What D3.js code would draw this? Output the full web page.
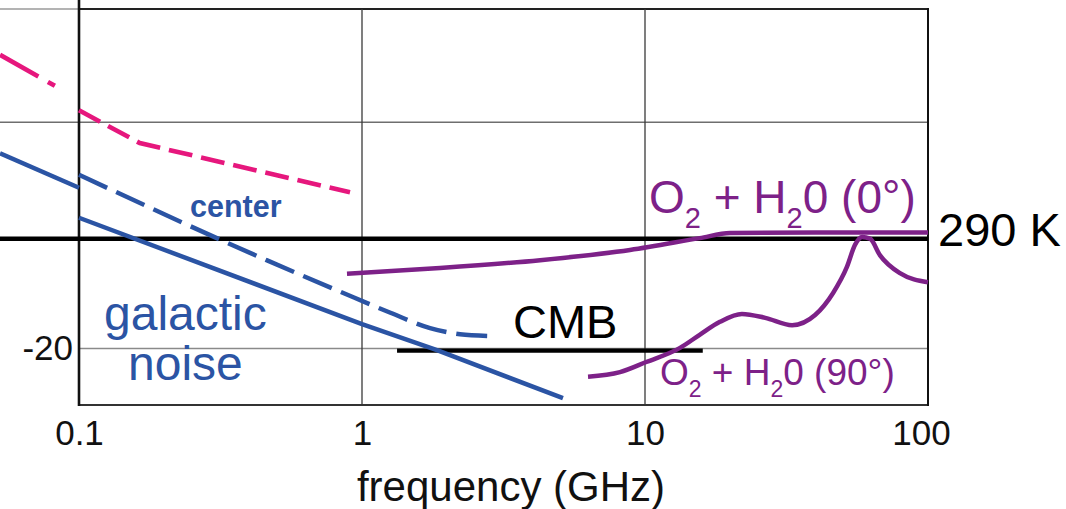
<!DOCTYPE html>
<html>
<head>
<meta charset="utf-8">
<script src="https://cdn.jsdelivr.net/npm/d3@7"></script>
<style>
  html, body { margin: 0; padding: 0; background: #fff; }
  svg { display: block; font-family: "Liberation Sans", Arial, Helvetica, sans-serif; }
</style>
</head>
<body>
<svg id="chart" width="1066" height="509"></svg>
<script>
// ---------- data ----------
const xTicks = [0.1, 1, 10, 100];
const xTickLabels = ["0.1", "1", "10", "100"];
const yGridValues = [40, 20, -20];
const yTicks = [-20];
const yTickLabels = ["-20"];
const refLevel290K = -0.6;          // 290 K reference line
const cmbLevel = -20.4;             // CMB level
const cmbRange = [1.33, 16.0];

// galactic noise (solid), left fragment beyond axis
const galacticLeft = [[0.0526, 14.5], [0.1, 8.4]];
// galactic noise (solid)
const galactic = [[0.1, 3.1], [1, -15.7], [1.84, -20.3], [5.13, -28.8]];
// galactic center (dashed)
const galacticCenter = [[0.1, 10.7], [0.46, -4.4], [0.84, -10.0], [1.26, -13.7], [1.74, -16.4], [2.22, -17.5], [2.79, -17.8]];
// pink dash-dot fragment (left) and pink dashed curve
const pinkLeft = [[0.0526, 31.9], [0.0823, 26.4]];
const pinkCurve = [[0.1, 22.1], [0.164, 16.3], [0.907, 7.6]];
// O2 + H2O (0°)
const atm0 = [[0.885, -6.8], [1.886, -5.8], [4.26, -4.4], [8.85, -2.6], [15.6, -0.5], [20.0, 0.4], [40, 0.5], [100, 0.5]];
// O2 + H2O (90°)
const atm90 = [[6.29, -25.0], [8.16, -24.2], [10.1, -22.4], [13.3, -19.9], [15.6, -17.6], [18.4, -15.3], [22.0, -13.9],
               [26.6, -14.6], [33.1, -15.9], [39.9, -14.1], [46.2, -10.2], [51.7, -5.6], [55.2, -1.7], [58.5, -0.3],
               [62.4, -0.6], [67.6, -3.5], [79.6, -6.7], [100, -8.3]];

// ---------- styles ----------
const BLUE = "#2b54a4";
const PINK = "#e6177d";
const PURPLE = "#7d2188";

const svg = d3.select("#chart");
const x = d3.scaleLog().domain([0.1, 100]).range([79, 928]);
const y = d3.scaleLinear().domain([-30, 40]).range([405, 9]);
const xLeftEdge = x.invert(0);

// ---------- grid / frame ----------
const g = svg.append("g");
g.append("line").attr("x1", x(xLeftEdge)).attr("x2", x(0.1)).attr("y1", y(40)).attr("y2", y(40))
  .attr("stroke", "#9a9a9a").attr("stroke-width", 1.5);
g.append("line").attr("x1", x(0.1)).attr("x2", x(100)).attr("y1", y(40)).attr("y2", y(40))
  .attr("stroke", "#222").attr("stroke-width", 2);
g.append("line").attr("x1", x(xLeftEdge)).attr("x2", x(100)).attr("y1", y(20)).attr("y2", y(20))
  .attr("stroke", "#6e6e6e").attr("stroke-width", 1.5);
g.append("line").attr("x1", x(0.1)).attr("x2", x(100)).attr("y1", y(-20)).attr("y2", y(-20))
  .attr("stroke", "#8a8a8a").attr("stroke-width", 1.5);
[1, 10].forEach(v => {
  g.append("line").attr("x1", x(v)).attr("x2", x(v)).attr("y1", y(40)).attr("y2", y(-30))
    .attr("stroke", "#3a3a3a").attr("stroke-width", 1.3);
});
g.append("line").attr("x1", x(0.1)).attr("x2", x(100)).attr("y1", y(-30)).attr("y2", y(-30))
  .attr("stroke", "#333").attr("stroke-width", 2.2);
g.append("line").attr("x1", x(100)).attr("x2", x(100)).attr("y1", y(40) - 1).attr("y2", y(-30) + 1)
  .attr("stroke", "#111").attr("stroke-width", 2);
g.append("line").attr("x1", x(0.1)).attr("x2", x(0.1)).attr("y1", 0).attr("y2", y(-30) + 1)
  .attr("stroke", "#111").attr("stroke-width", 2.6);

// ---------- axes labels ----------
const xAxis = d3.axisBottom(x).tickValues(xTicks).tickSize(0).tickPadding(0)
  .tickFormat((d, i) => xTickLabels[i]);
const xa = svg.append("g").attr("transform", `translate(0, 445)`).call(xAxis);
xa.select(".domain").remove();
xa.selectAll("text").attr("dy", 0).attr("font-size", 35).attr("fill", "#111")
  .attr("font-family", "Liberation Sans, Arial, sans-serif");
xa.selectAll(".tick").filter(d => d === 100).select("text").attr("dx", -7);

svg.selectAll(".ytick").data(yTicks).join("text").attr("class", "ytick")
  .attr("x", 73).attr("y", d => y(d) + 12).attr("text-anchor", "end")
  .attr("font-size", 35).attr("fill", "#111").text((d, i) => yTickLabels[i]);

svg.append("text").attr("x", 511).attr("y", 501).attr("text-anchor", "middle")
  .attr("font-size", 42).attr("fill", "#111").text("frequency (GHz)");

// ---------- lines ----------
const line = d3.line().x(d => x(d[0])).y(d => y(d[1]));
const smooth = d3.line().x(d => x(d[0])).y(d => y(d[1])).curve(d3.curveMonotoneX);

svg.append("line").attr("x1", x(xLeftEdge)).attr("x2", x(100)).attr("y1", y(refLevel290K)).attr("y2", y(refLevel290K))
  .attr("stroke", "#000").attr("stroke-width", 4.4);
svg.append("line").attr("x1", x(cmbRange[0])).attr("x2", x(cmbRange[1])).attr("y1", y(cmbLevel)).attr("y2", y(cmbLevel))
  .attr("stroke", "#000").attr("stroke-width", 4.2);

svg.append("path").datum(pinkLeft).attr("d", line).attr("fill", "none")
  .attr("stroke", PINK).attr("stroke-width", 4.6).attr("stroke-dasharray", "44,11,8,30");
svg.append("path").datum(pinkCurve).attr("d", line).attr("fill", "none")
  .attr("stroke", PINK).attr("stroke-width", 4.6).attr("stroke-dasharray", "24,9");

svg.append("path").datum(galacticLeft).attr("d", line).attr("fill", "none")
  .attr("stroke", BLUE).attr("stroke-width", 4.5);
svg.append("path").datum(galactic).attr("d", line).attr("fill", "none")
  .attr("stroke", BLUE).attr("stroke-width", 4.5);
svg.append("path").datum(galacticCenter).attr("d", smooth).attr("fill", "none")
  .attr("stroke", BLUE).attr("stroke-width", 4.5).attr("stroke-dasharray", "31,10");

svg.append("path").datum(atm0).attr("d", smooth).attr("fill", "none")
  .attr("stroke", PURPLE).attr("stroke-width", 4.5);
svg.append("path").datum(atm90).attr("d", smooth).attr("fill", "none")
  .attr("stroke", PURPLE).attr("stroke-width", 4.5);

// ---------- annotations ----------
svg.append("text").attr("x", 190).attr("y", 217).attr("font-size", 30.5).attr("font-weight", "bold")
  .attr("fill", BLUE).text("center");
svg.append("text").attr("x", 104).attr("y", 330).attr("font-size", 48).attr("fill", BLUE).text("galactic");
svg.append("text").attr("x", 128).attr("y", 380).attr("font-size", 48).attr("fill", BLUE).text("noise");
svg.append("text").attr("x", 513).attr("y", 338).attr("font-size", 47).attr("fill", "#000").text("CMB");
svg.append("text").attr("x", 938).attr("y", 246).attr("font-size", 47).attr("fill", "#000").text("290 K");

function molLabel(xp, yp, size, angle) {
  const t = svg.append("text").attr("x", xp).attr("y", yp).attr("font-size", size).attr("fill", PURPLE);
  const sub = Math.round(size * 0.62), shift = Math.round(size * 0.33);
  t.append("tspan").text("O");
  t.append("tspan").attr("font-size", sub).attr("dy", shift).text("2");
  t.append("tspan").attr("dy", -shift).text(" + H");
  t.append("tspan").attr("font-size", sub).attr("dy", shift).text("2");
  t.append("tspan").attr("dy", -shift).text("0 (" + angle + "°)");
}
molLabel(649, 213, 46, "0");
molLabel(660, 385, 37, "90");
</script>
</body>
</html>
